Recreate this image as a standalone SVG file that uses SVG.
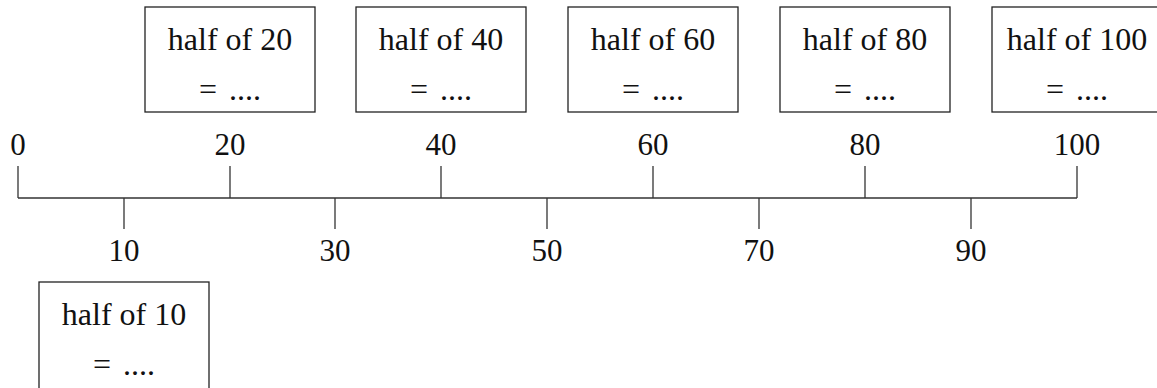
<svg xmlns="http://www.w3.org/2000/svg" width="1157" height="388" viewBox="0 0 1157 388">
<style>
text{font-family:"Liberation Serif","DejaVu Serif",serif;font-size:31px;fill:#111;text-anchor:middle}
text.t{font-size:32px}
text.e{font-size:32px;word-spacing:4px}
.box{fill:#fff;stroke:#222;stroke-width:1.3}
.ln{stroke:#333;stroke-width:1.3;fill:none}
</style>
<rect width="1157" height="388" fill="#fff"/>
<g id="axis" class="ln">
<line x1="18" y1="198" x2="1077" y2="198"/>
<line x1="18" y1="166" x2="18" y2="198"/>
<line x1="230" y1="166" x2="230" y2="198"/>
<line x1="441" y1="166" x2="441" y2="198"/>
<line x1="653" y1="166" x2="653" y2="198"/>
<line x1="865" y1="166" x2="865" y2="198"/>
<line x1="1077" y1="166" x2="1077" y2="198"/>
<line x1="124" y1="198" x2="124" y2="229"/>
<line x1="335" y1="198" x2="335" y2="229"/>
<line x1="547" y1="198" x2="547" y2="229"/>
<line x1="759" y1="198" x2="759" y2="229"/>
<line x1="971" y1="198" x2="971" y2="229"/>
</g>
<g id="labels">
<text x="18" y="155">0</text>
<text x="230" y="155">20</text>
<text x="441" y="155">40</text>
<text x="653" y="155">60</text>
<text x="865" y="155">80</text>
<text x="1077" y="155">100</text>
<text x="124" y="261">10</text>
<text x="335" y="261">30</text>
<text x="547" y="261">50</text>
<text x="759" y="261">70</text>
<text x="971" y="261">90</text>
</g>
<g id="box20"><rect class="box" x="145" y="7" width="170" height="105"/><text class="t" x="230" y="50">half of 20</text><text class="e" x="230" y="100">= ....</text></g>
<g id="box40"><rect class="box" x="356" y="7" width="170" height="105"/><text class="t" x="441" y="50">half of 40</text><text class="e" x="441" y="100">= ....</text></g>
<g id="box60"><rect class="box" x="568" y="7" width="170" height="105"/><text class="t" x="653" y="50">half of 60</text><text class="e" x="653" y="100">= ....</text></g>
<g id="box80"><rect class="box" x="780" y="7" width="170" height="105"/><text class="t" x="865" y="50">half of 80</text><text class="e" x="865" y="100">= ....</text></g>
<g id="box100"><rect class="box" x="992" y="7" width="170" height="105"/><text class="t" x="1077" y="50">half of 100</text><text class="e" x="1077" y="100">= ....</text></g>
<g id="box10"><rect class="box" x="39" y="282" width="170" height="110"/><text class="t" x="124" y="325">half of 10</text><text class="e" x="124" y="375">= ....</text></g>
</svg>
